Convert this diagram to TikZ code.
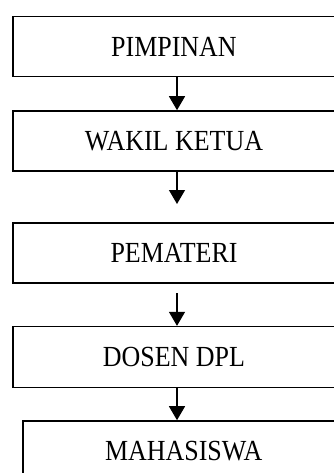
\documentclass[tikz,border=0pt]{standalone}
\usepackage{fontspec}
\setmainfont{Liberation Serif}
\usetikzlibrary{arrows.meta}
% slightly taller capitals for the box labels
\newcommand{\boxlabel}[1]{\scalebox{0.98}[1.1]{#1}}
\begin{document}
\begin{tikzpicture}[x=1pt,y=-1pt,
  stagebox/.style={draw=black,line width=1.6pt,minimum width=322pt,minimum height=60pt,
    inner sep=0pt,font=\fontsize{26.5}{30}\selectfont,text=black},
  flow/.style={line width=1.3pt,-{Triangle[width=16pt,length=14pt]}}]
\useasboundingbox (0,0) rectangle (334,473);
\clip (0,0) rectangle (334,473);
\fill[white] (0,0) rectangle (334,473);
% boxes of the hierarchy
\node[stagebox] (pimpinan) at (174,46.7) {\boxlabel{PIMPINAN}};
\node[stagebox] (wakil) at (174,141) {\boxlabel{WAKIL KETUA}};
\node[stagebox] (pemateri) at (174,252.7) {\boxlabel{PEMATERI}};
\node[stagebox,minimum height=60.7pt] (dosen) at (174,357) {\boxlabel{DOSEN DPL}};
\node[stagebox] (mhs) at (183.7,451) {\boxlabel{MAHASISWA}};
% arrow axis and free ends
\coordinate (ax) at (177,0);
\coordinate (tipA) at (177,204);
\coordinate (startB) at (177,293.3);
\draw[flow] (pimpinan.south -| ax) -- (wakil.north -| ax);
\draw[flow] (wakil.south -| ax) -- (tipA);
\draw[flow] (startB) -- (dosen.north -| ax);
\draw[flow] (dosen.south -| ax) -- (mhs.north -| ax);
\end{tikzpicture}
\end{document}
